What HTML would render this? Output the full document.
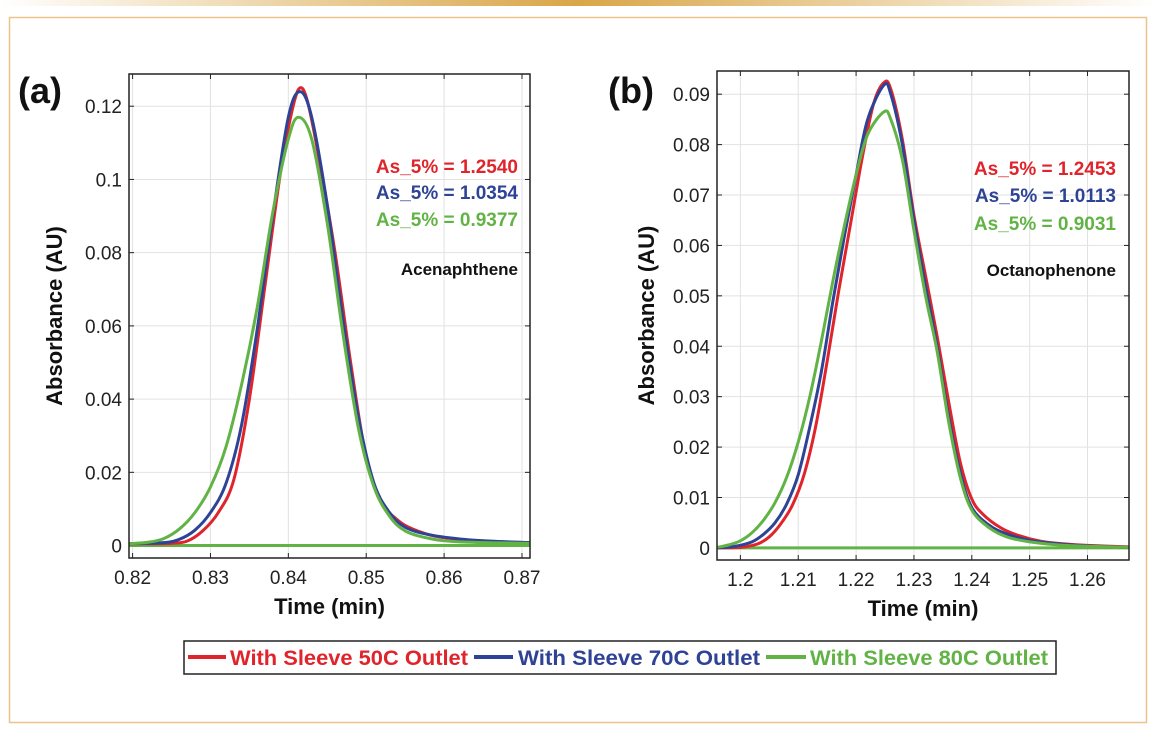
<!DOCTYPE html>
<html><head><meta charset="utf-8"><style>
html,body{margin:0;padding:0;background:#fff}
svg{display:block;font-family:"Liberation Sans",sans-serif}
</style></head><body>
<svg id="fig" width="1156" height="736" viewBox="0 0 1156 736">
<defs><linearGradient id="topbar" x1="0" x2="1"><stop offset="0" stop-color="#fff"/><stop offset="0.5" stop-color="#d9a648"/><stop offset="1" stop-color="#fff"/></linearGradient></defs>
<rect x="0" y="0" width="1156" height="6" fill="url(#topbar)"/>
<rect x="9.5" y="17.5" width="1137" height="705" fill="#fff" stroke="#e9c48d" stroke-width="1.5"/>
<g id="panelA"></g>
<g id="panelB"></g>
<g>
<rect x="184" y="641" width="872" height="33" fill="#fff" stroke="#222" stroke-width="1.5"/>
<line x1="188" y1="657" x2="226" y2="657" stroke="#e0242b" stroke-width="4"/>
<text x="230" y="665" fill="#e0242b" font-size="21" font-weight="bold" textLength="238" lengthAdjust="spacingAndGlyphs" font-family="'Liberation Sans Narrow','Liberation Sans',sans-serif">With Sleeve 50C Outlet</text>
<line x1="474" y1="657" x2="513" y2="657" stroke="#2e4395" stroke-width="4"/>
<text x="518" y="665" fill="#2e4395" font-size="21" font-weight="bold" textLength="242" lengthAdjust="spacingAndGlyphs" font-family="'Liberation Sans Narrow','Liberation Sans',sans-serif">With Sleeve 70C Outlet</text>
<line x1="766" y1="657" x2="806" y2="657" stroke="#62b346" stroke-width="4"/>
<text x="810" y="665" fill="#62b346" font-size="21" font-weight="bold" textLength="238" lengthAdjust="spacingAndGlyphs" font-family="'Liberation Sans Narrow','Liberation Sans',sans-serif">With Sleeve 80C Outlet</text>
</g>
</svg>
<script>
// Panel (a) data
const aTimeRed = [0.8195,0.822,0.825,0.827,0.829,0.831,0.833,0.835,0.837,0.839,0.8405,0.8415,0.8425,0.844,0.846,0.848,0.850,0.852,0.854,0.856,0.859,0.863,0.867,0.871];
const aRed = [0.0005,0.0005,0.0006,0.0012,0.004,0.009,0.018,0.040,0.071,0.102,0.119,0.125,0.121,0.105,0.080,0.050,0.024,0.012,0.007,0.0045,0.0025,0.0015,0.001,0.0008];
const aTimeBlue = [0.8195,0.824,0.826,0.828,0.830,0.832,0.834,0.836,0.838,0.840,0.8415,0.843,0.845,0.847,0.849,0.851,0.853,0.855,0.858,0.862,0.866,0.871];
const aBlue = [0.0005,0.0008,0.0017,0.0042,0.009,0.017,0.033,0.059,0.090,0.117,0.124,0.117,0.093,0.062,0.035,0.017,0.009,0.005,0.003,0.0018,0.0012,0.0008];
const aTimeGreen = [0.8195,0.822,0.824,0.826,0.828,0.830,0.832,0.834,0.836,0.838,0.840,0.8413,0.843,0.845,0.847,0.849,0.851,0.853,0.855,0.858,0.862,0.871];
const aGreen = [0.0005,0.0009,0.0019,0.0045,0.009,0.016,0.027,0.044,0.065,0.091,0.111,0.117,0.111,0.088,0.058,0.032,0.016,0.008,0.004,0.002,0.001,0.0006];
const aXTicks = [0.82,0.83,0.84,0.85,0.86,0.87];
const aXLabels = ["0.82","0.83","0.84","0.85","0.86","0.87"];
const aYTicks = [0,0.02,0.04,0.06,0.08,0.1,0.12];
const aYLabels = ["0","0.02","0.04","0.06","0.08","0.1","0.12"];
const aAs = ["As_5% = 1.2540","As_5% = 1.0354","As_5% = 0.9377"];
// Panel (b) data
const bTimeRed = [1.196,1.200,1.203,1.205,1.207,1.209,1.211,1.213,1.215,1.217,1.219,1.221,1.223,1.2248,1.226,1.228,1.230,1.232,1.234,1.236,1.238,1.240,1.242,1.245,1.248,1.252,1.256,1.260,1.2672];
const bRed = [0,0.0001,0.0008,0.0022,0.0048,0.0085,0.0145,0.024,0.037,0.051,0.064,0.077,0.088,0.0923,0.091,0.081,0.066,0.054,0.042,0.029,0.017,0.0097,0.0066,0.004,0.0025,0.0013,0.0008,0.0005,0.0002];
const bTimeBlue = [1.196,1.199,1.202,1.204,1.206,1.208,1.210,1.212,1.214,1.216,1.218,1.220,1.222,1.2248,1.226,1.228,1.230,1.232,1.234,1.236,1.238,1.240,1.243,1.246,1.250,1.255,1.260,1.2672];
const bBlue = [0,0.0003,0.0012,0.0027,0.005,0.0087,0.0145,0.024,0.035,0.049,0.062,0.074,0.085,0.0918,0.090,0.080,0.065,0.052,0.040,0.026,0.015,0.008,0.0045,0.0028,0.0015,0.0008,0.0004,0.0001];
const bTimeGreen = [1.196,1.198,1.200,1.202,1.204,1.206,1.208,1.210,1.212,1.214,1.216,1.218,1.220,1.222,1.2248,1.226,1.228,1.230,1.232,1.234,1.236,1.238,1.240,1.243,1.246,1.250,1.256,1.2672];
const bGreen = [0.0001,0.0006,0.0014,0.003,0.0055,0.009,0.014,0.021,0.030,0.041,0.053,0.064,0.074,0.082,0.0865,0.085,0.077,0.063,0.050,0.039,0.025,0.014,0.0075,0.004,0.0022,0.0012,0.0005,0.0001];
const bXTicks = [1.2,1.21,1.22,1.23,1.24,1.25,1.26];
const bXLabels = ["1.2","1.21","1.22","1.23","1.24","1.25","1.26"];
const bYTicks = [0,0.01,0.02,0.03,0.04,0.05,0.06,0.07,0.08,0.09];
const bYLabels = ["0","0.01","0.02","0.03","0.04","0.05","0.06","0.07","0.08","0.09"];
const bAs = ["As_5% = 1.2453","As_5% = 1.0113","As_5% = 0.9031"];

const NS = "http://www.w3.org/2000/svg";
const COLORS = ["#e0242b","#2e4395","#62b346"];
const SNAMES = ["50c","70c","80c"];
function mk(tag, attrs, parent){const e=document.createElementNS(NS,tag);for(const k in attrs)e.setAttribute(k,attrs[k]);parent.appendChild(e);return e;}
function smoothPath(pts){
  let d="M"+pts[0][0].toFixed(2)+","+pts[0][1].toFixed(2);
  for(let i=0;i<pts.length-1;i++){
    const p0=pts[Math.max(0,i-1)],p1=pts[i],p2=pts[i+1],p3=pts[Math.min(pts.length-1,i+2)];
    const c1=[p1[0]+(p2[0]-p0[0])/6,p1[1]+(p2[1]-p0[1])/6];
    const c2=[p2[0]-(p3[0]-p1[0])/6,p2[1]-(p3[1]-p1[1])/6];
    d+="C"+c1[0].toFixed(2)+","+c1[1].toFixed(2)+" "+c2[0].toFixed(2)+","+c2[1].toFixed(2)+" "+p2[0].toFixed(2)+","+p2[1].toFixed(2);
  }
  return d;
}
function panel(g, cfg){
  const {L,R,T,B,x0,x1,y0,y1}=cfg;
  const sx=v=>L+(v-x0)/(x1-x0)*(R-L);
  const sy=v=>B-(v-y0)/(y1-y0)*(B-T);
  mk("rect",{x:L,y:T,width:R-L,height:B-T,fill:"#fff"},g);
  cfg.xt.forEach((v,i)=>{
    const gl=mk("line",{x1:sx(v),x2:sx(v),y1:T,y2:B,stroke:"#e2e2e2","stroke-width":1},g);
    
    
    mk("line",{x1:sx(v),x2:sx(v),y1:B,y2:B-5,stroke:"#222","stroke-width":1},g);
    mk("line",{x1:sx(v),x2:sx(v),y1:T,y2:T+5,stroke:"#222","stroke-width":1},g);
    const t=mk("text",{x:sx(v),y:B+26,"text-anchor":"middle","font-size":19,fill:"#222"},g);
    t.textContent=cfg.xl[i];
    
    
  });
  cfg.yt.forEach((v,i)=>{
    const gl=mk("line",{x1:L,x2:R,y1:sy(v),y2:sy(v),stroke:"#e2e2e2","stroke-width":1},g);
    
    
    mk("line",{x1:L,x2:L+5,y1:sy(v),y2:sy(v),stroke:"#222","stroke-width":1},g);
    mk("line",{x1:R,x2:R-5,y1:sy(v),y2:sy(v),stroke:"#222","stroke-width":1},g);
    const t=mk("text",{x:L-7,y:sy(v)+7,"text-anchor":"end","font-size":19,fill:"#222"},g);
    t.textContent=cfg.yl[i];
    
    
  });
  const bl=mk("line",{x1:L,x2:R,y1:sy(0),y2:sy(0),stroke:"#62b346","stroke-width":3},g);
  
  
  cfg.series.forEach((s,k)=>{
    const pts=s[0].map((t,i)=>[sx(t),sy(s[1][i])]);
    const p=mk("path",{d:smoothPath(pts),fill:"none",stroke:COLORS[k],"stroke-width":3,"stroke-linejoin":"round"},g);
    
    
  });
  const fr=mk("rect",{x:L,y:T,width:R-L,height:B-T,fill:"none",stroke:"#222","stroke-width":1.5},g);
  
  
  const xt=mk("text",{x:(L+R)/2,y:B+56,"text-anchor":"middle","font-size":22,"font-weight":"bold",fill:"#111"},g);
  xt.textContent="Time (min)";
  
  
  const yx=cfg.ytx, yy=(T+B)/2;
  const yt=mk("text",{x:yx,y:yy,"text-anchor":"middle","font-size":22,"font-weight":"bold",fill:"#111",transform:"rotate(-90 "+yx+" "+yy+")"},g);
  yt.textContent="Absorbance (AU)";
  
  
  const pl=mk("text",{x:cfg.plx,y:cfg.ply,"font-size":36,"font-weight":"bold",fill:"#111"},g);
  pl.textContent=cfg.label;
  
  
  cfg.as.forEach((s,k)=>{
    const t=mk("text",{x:cfg.ax,y:cfg.ay[k],"text-anchor":"end","font-size":19,"font-weight":"bold",fill:COLORS[k]},g);
    t.textContent=s;
    
    
  });
  const cn=mk("text",{x:cfg.ax,y:cfg.cy,"text-anchor":"end","font-size":17,"font-weight":"bold",fill:"#111"},g);
  cn.textContent=cfg.compound;
  
  
}
panel(document.getElementById("panelA"),{L:129,R:530,T:74,B:558,x0:0.81954,x1:0.87103,y0:-0.0034,y1:0.1288,
  xt:aXTicks,xl:aXLabels,yt:aYTicks,yl:aYLabels,
  series:[[aTimeRed,aRed],[aTimeBlue,aBlue],[aTimeGreen,aGreen]],
  ytx:62,plx:18,ply:103,label:"(a)",as:aAs,ax:518,ay:[173,199,226],compound:"Acenaphthene",cy:275});
panel(document.getElementById("panelB"),{L:717,R:1129,T:71,B:560,x0:1.19596,x1:1.26717,y0:-0.0024,y1:0.0946,
  xt:bXTicks,xl:bXLabels,yt:bYTicks,yl:bYLabels,
  series:[[bTimeRed,bRed],[bTimeBlue,bBlue],[bTimeGreen,bGreen]],
  ytx:654,plx:608,ply:103,label:"(b)",as:bAs,ax:1116,ay:[175,202,230],compound:"Octanophenone",cy:276});
</script>
</body></html>
